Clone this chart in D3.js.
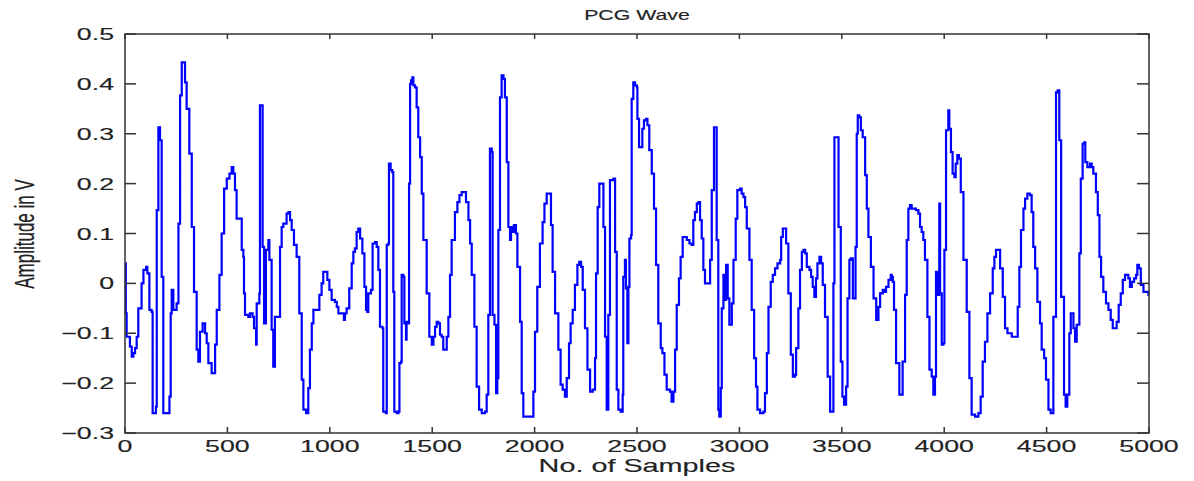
<!DOCTYPE html>
<html>
<head>
<meta charset="utf-8">
<script src="https://cdn.jsdelivr.net/npm/d3@7"></script>
<style>
  body { margin: 0; background: #fff; }
  svg text { font-family: "Liberation Sans", Arial, sans-serif; fill: #222; }
</style>
</head>
<body>
<div id="chart"></div>
<script>
// PCG wave (sample number, amplitude in V)
const sampleNo = [
  0, 4, 8, 16, 24, 33, 41, 49, 57, 65, 81, 90, 103, 109, 119, 130, 135, 147, 151, 155,
  163, 171, 179, 187, 212, 217, 223, 228, 236, 252, 261, 269, 277, 293, 301, 314, 326, 337, 350, 358,
  366, 379, 391, 399, 407, 423, 440, 448, 461, 472, 484, 497, 510, 521, 529, 537, 545,
  570, 578, 581, 586, 602, 610, 623, 630, 640, 643, 656, 659, 667, 672, 679, 688, 700, 705, 716,
  724, 732, 749, 757, 765, 773, 789, 798, 806, 814, 825, 838, 851, 863, 871, 884, 895, 903, 912, 920,
  939, 949, 960, 968, 982, 988, 998, 1009, 1025, 1034, 1042, 1058, 1069, 1074, 1082, 1095, 1107, 1115, 1123, 1131,
  1139, 1148, 1159, 1169, 1177, 1183, 1188, 1201,
  1209, 1221, 1229, 1237, 1245, 1257, 1261, 1274, 1278, 1286, 1289, 1297, 1305, 1310, 1315, 1327, 1335, 1340, 1348, 1351,
  1359, 1364, 1372, 1375, 1384, 1387, 1392, 1397, 1403, 1408, 1416, 1424, 1432, 1441, 1449, 1457, 1473, 1486, 1498, 1506,
  1514, 1522, 1530, 1538, 1546, 1554, 1571, 1579, 1587, 1595, 1611, 1623, 1633, 1644, 1657, 1665, 1677, 1685, 1693, 1706,
  1717, 1729, 1742, 1758, 1766, 1774, 1782, 1791, 1795, 1804, 1812, 1818, 1823, 1831, 1839, 1848,
  1855, 1864, 1872, 1880, 1885, 1893, 1899, 1909, 1916, 1929, 1937, 1945, 1986, 1994, 2002, 2013, 2026, 2039, 2048, 2059,
  2075, 2080, 2088, 2100, 2116, 2127, 2137, 2148, 2157, 2168, 2176, 2186, 2197, 2209, 2218, 2227, 2235, 2246, 2258, 2271,
  2284, 2295, 2300, 2308, 2316, 2328, 2336, 2344, 2352, 2360, 2368, 2385, 2393, 2401, 2409, 2420, 2430, 2433, 2441, 2446,
  2453, 2458, 2463, 2471,
  2474, 2482, 2490, 2499, 2502, 2510, 2518, 2526, 2534, 2544, 2551, 2560, 2572, 2583, 2593, 2604, 2616, 2624, 2634, 2645,
  2661, 2669, 2678, 2686, 2694, 2705, 2713, 2723, 2735, 2743, 2756, 2767, 2775, 2783, 2792, 2800, 2808, 2816, 2824, 2832,
  2849, 2857, 2865, 2873, 2876, 2884, 2889, 2897, 2902, 2909, 2914, 2922, 2930, 2935, 2943, 2951, 2963, 2971, 2982, 2990,
  3003, 3011, 3020, 3028, 3036, 3049, 3060, 3072, 3081, 3088, 3101,
  3117, 3125, 3134, 3142, 3153, 3163, 3174, 3186, 3199, 3204, 3212, 3223, 3228, 3239, 3251, 3261, 3272, 3277, 3288, 3296,
  3305, 3313, 3321, 3329, 3342, 3350, 3358, 3366, 3374, 3381, 3391, 3399, 3407, 3418, 3431, 3443, 3451, 3459, 3464, 3479,
  3484, 3492, 3495, 3503, 3511, 3521, 3528, 3537, 3544, 3554, 3562, 3567, 3573, 3578, 3586, 3593, 3602, 3614, 3622, 3630,
  3642, 3655, 3668, 3679, 3687, 3700, 3708, 3716, 3728, 3739,
  3744, 3749, 3755, 3765, 3776, 3781, 3792, 3797, 3809, 3817, 3825, 3833, 3841, 3862, 3874, 3882, 3890, 3898, 3906, 3918,
  3928, 3939, 3947, 3955, 3960, 3968, 3976, 3980, 3988, 3996, 4001, 4009, 4020, 4025, 4033, 4041, 4050, 4056, 4064, 4072,
  4081, 4094, 4110, 4123, 4134, 4151, 4167, 4178, 4188, 4199, 4211, 4224, 4237, 4245, 4253, 4265, 4273, 4286, 4297, 4309,
  4318, 4330, 4354, 4359, 4367,
  4375, 4387, 4395, 4406, 4419, 4427, 4435, 4444, 4455, 4468, 4476, 4488, 4497, 4509, 4520, 4530, 4533, 4541, 4546, 4554,
  4562, 4571, 4579, 4585, 4593, 4601, 4611, 4618, 4626, 4631, 4639, 4647, 4655, 4660, 4667, 4676, 4684, 4689, 4699, 4712,
  4720, 4728, 4741, 4750, 4758, 4766, 4777, 4790, 4802, 4813, 4823, 4831, 4842, 4852, 4862, 4872, 4883, 4891, 4899, 4907,
  4916, 4927, 4937, 4943, 4951, 4960, 4973, 4981, 4997, 5000
];

const amplitudeV = [
  0.04, -0.06, -0.107, -0.107, -0.127, -0.147, -0.14, -0.13, -0.107, -0.05, 0, 0.027, 0.033, 0.02, -0.053, -0.057, -0.26, -0.26, -0.247, 0.147,
  0.313, 0.287, 0.013, -0.26, -0.26, -0.227, -0.06, -0.013, -0.053, -0.04, 0.12, 0.377, 0.443, 0.403, 0.35, 0.26, 0.113, -0.017, -0.133, -0.157,
  -0.097, -0.08, -0.1, -0.12, -0.16, -0.18, -0.123, -0.053, 0.017, 0.1, 0.19, 0.21, 0.22, 0.233, 0.22, 0.187, 0.13,
  0.067, 0.053, -0.02, -0.063, -0.067, -0.06, -0.067, -0.09, -0.123, -0.04, -0.02, 0.357, 0.357, 0.073, -0.08, 0.067, 0.087, 0.047, -0.093,
  -0.167, -0.067, -0.067, 0.073, 0.113, 0.12, 0.14, 0.143, 0.127, 0.107, 0.077, 0.053, -0.06, -0.193, -0.253, -0.26, -0.21, -0.133, -0.08, -0.053,
  -0.053, -0.023, 0, 0.023, 0.023, 0.007, -0.013, -0.033, -0.037, -0.047, -0.06, -0.06, -0.073, -0.06, -0.05, -0.01, 0.04, 0.063, 0.07, 0.103,
  0.11, 0.09, 0.06, -0.007, -0.053, -0.057, -0.02, -0.013,
  0.08, 0.083, 0.073, 0.027, -0.087, -0.09, -0.257, -0.26, 0.077, 0.08, 0.24, 0.227, 0.223, -0.017, -0.257, -0.26, -0.257, -0.16, -0.157, 0.017,
  0.013, -0.08, -0.113, -0.077, -0.08, 0.2, 0.4, 0.407, 0.413, 0.397, 0.393, 0.353, 0.293, 0.253, 0.18, 0.087, -0.02, -0.107, -0.123, -0.107,
  -0.087, -0.077, -0.08, -0.103, -0.107, -0.133, -0.107, -0.067, 0.017, 0.087, 0.143, 0.163, 0.177, 0.183, 0.183, 0.163, 0.127, 0.08, 0.017, -0.087,
  -0.207, -0.253, -0.26, -0.257, -0.223, -0.063, 0.27, 0.263, -0.063, -0.083, -0.22, -0.19, 0.107, 0.373, 0.417, 0.41,
  0.373, 0.243, 0.113, 0.087, 0.113, 0.103, 0.117, 0.1, 0.033, -0.077, -0.22, -0.267, -0.267, -0.217, -0.097, -0.007, 0.08, 0.123, 0.16, 0.18,
  0.18, 0.117, 0.023, -0.06, -0.133, -0.203, -0.213, -0.227, -0.19, -0.12, -0.08, -0.053, -0.003, 0.037, 0.043, 0.033, -0.013, -0.09, -0.173, -0.217,
  -0.213, -0.15, 0.02, 0.153, 0.2, 0.2, 0.113, -0.107, -0.253, -0.063, 0.207, 0.21, 0.063, -0.213, -0.253, -0.257, -0.223, 0.013, 0.047, -0.01,
  -0.12, -0.007, 0.09, 0.097,
  0.37, 0.403, 0.397, 0.393, 0.33, 0.273, 0.273, 0.31, 0.327, 0.33, 0.317, 0.267, 0.22, 0.15, 0.037, -0.08, -0.13, -0.14, -0.183, -0.213,
  -0.217, -0.237, -0.217, -0.133, -0.043, 0.01, 0.053, 0.093, 0.093, 0.087, 0.08, 0.077, 0.127, 0.143, 0.16, 0.163, 0.127, 0.09, 0.027, 0,
  0, 0.047, 0.187, 0.187, 0.313, 0.313, 0.087, -0.253, -0.267, -0.21, -0.05, 0.017, -0.033, 0.037, -0.03, -0.083, -0.04, 0.047, 0.13, 0.187,
  0.19, 0.18, 0.173, 0.153, 0.11, 0.047, -0.053, -0.15, -0.207, -0.253, -0.26,
  -0.257, -0.22, -0.14, -0.047, 0.003, 0.017, 0.03, 0.04, 0.047, 0.093, 0.11, 0.11, 0.08, -0.02, -0.143, -0.187, -0.183, -0.13, -0.05, 0.027,
  0.063, 0.067, 0.06, 0.033, 0.027, 0.013, -0.007, -0.027, 0.01, 0.04, 0.053, 0.04, -0.003, -0.067, -0.187, -0.257, -0.257, 0, 0.293, 0.293,
  0.113, 0.113, -0.157, -0.227, -0.243, -0.207, -0.03, 0.047, 0.05, -0.03, -0.03, 0.073, 0.3, 0.337, 0.333, 0.307, 0.293, 0.217, 0.15, 0.093,
  0.033, -0.03, -0.073, -0.047, -0.02, -0.013, -0.017, -0.007, 0.007, 0.017,
  0.013, 0.003, -0.053, -0.16, -0.16, -0.223, -0.223, -0.157, -0.023, 0.087, 0.15, 0.157, 0.15, 0.147, 0.14, 0.113, 0.103, 0.087, 0.047, -0.067,
  -0.173, -0.187, -0.223, -0.187, 0.023, -0.023, 0.16, -0.02, -0.123, -0.12, 0.067, 0.307, 0.347, 0.31, 0.263, 0.22, 0.213, 0.24, 0.257, 0.25,
  0.183, 0.047, -0.057, -0.19, -0.263, -0.267, -0.26, -0.227, -0.157, -0.117, -0.06, -0.02, 0.03, 0.053, 0.067, 0.067, 0.03, -0.027, -0.09, -0.1,
  -0.1, -0.107, -0.107, -0.047, 0.033,
  0.107, 0.15, 0.17, 0.18, 0.177, 0.143, 0.073, 0.03, -0.037, -0.08, -0.133, -0.15, -0.193, -0.253, -0.26, -0.26, -0.067, -0.067, 0.383, 0.387,
  0.287, -0.027, -0.027, -0.223, -0.247, -0.223, -0.1, -0.06, -0.06, -0.09, -0.117, -0.083, -0.083, 0.06, 0.21, 0.28, 0.283, 0.243, 0.233, 0.24,
  0.233, 0.22, 0.183, 0.137, 0.053, 0.013, -0.017, -0.04, -0.053, -0.073, -0.09, -0.09, -0.077, -0.043, -0.02, 0.007, 0.017, 0.017, 0.01, -0.007,
  0.003, 0.01, 0.017, 0.037, 0.03, -0.003, -0.017, -0.017, -0.023, -0.023
];

const xTicks = [0, 500, 1000, 1500, 2000, 2500, 3000, 3500, 4000, 4500, 5000];
const yTicks = [-0.3, -0.2, -0.1, 0, 0.1, 0.2, 0.3, 0.4, 0.5];

const W = 1194, H = 481;
const margin = {top: 34, right: 45, bottom: 48, left: 125};
const width = W - margin.left - margin.right;
const height = H - margin.top - margin.bottom;
const stretch = 1.62; // the picture is widened, text too

const svg = d3.select("#chart").append("svg")
    .attr("width", W)
    .attr("height", H);

const g = svg.append("g")
    .attr("transform", `translate(${margin.left},${margin.top})`);

const x = d3.scaleLinear().domain([0, 5000]).range([0, width]);
const y = d3.scaleLinear().domain([-0.3, 0.5]).range([height, 0]);

const data = sampleNo.map((s, i) => ({s: s, v: amplitudeV[i]}));

// the wave
g.append("path")
    .datum(data)
    .attr("fill", "none")
    .attr("stroke", "#0000ff")
    .attr("stroke-width", 2.2)
    .attr("d", d3.line()
        .x(d => x(d.s))
        .y(d => y(d.v))
        .curve(d3.curveStepAfter));

// ticks inside the box, MATLAB style
const tickColor = "#333";
xTicks.forEach(t => {
    g.append("line").attr("x1", x(t)).attr("x2", x(t)).attr("y1", height).attr("y2", height - 6)
        .attr("stroke", tickColor).attr("stroke-width", 1.5);
    g.append("line").attr("x1", x(t)).attr("x2", x(t)).attr("y1", 0).attr("y2", 5)
        .attr("stroke", tickColor).attr("stroke-width", 1.5);
});
yTicks.forEach(t => {
    g.append("line").attr("x1", 0).attr("x2", 11).attr("y1", y(t)).attr("y2", y(t))
        .attr("stroke", tickColor).attr("stroke-width", 1.5);
    g.append("line").attr("x1", width - 12).attr("x2", width).attr("y1", y(t)).attr("y2", y(t))
        .attr("stroke", tickColor).attr("stroke-width", 1.5);
});

// box
g.append("rect")
    .attr("x", 0).attr("y", 0)
    .attr("width", width).attr("height", height)
    .attr("fill", "none")
    .attr("stroke", "#333")
    .attr("stroke-width", 1.5);

// stretched text helper
function label(px, py, str, size, anchor, rot, sx) {
    const t = svg.append("text")
        .attr("transform", `translate(${px},${py}) scale(${sx || stretch},1)` + (rot ? ` rotate(${rot})` : ""))
        .attr("text-anchor", anchor)
        .style("font-size", size + "px")
        .style("stroke", "#222")
        .style("stroke-width", 0.15)
        .text(str);
    return t;
}

xTicks.forEach(t => label(margin.left + x(t), margin.top + height + 19, t, 16.5, "middle"));
yTicks.forEach(t => label(margin.left - 11, margin.top + y(t) + 6, t === 0 ? "0" : d3.format(".1f")(t), 16.5, "end"));

label(margin.left + width / 2, 20, "PCG Wave", 15, "middle", 0, 1.42);
label(margin.left + width / 2, 472, "No. of Samples", 18, "middle", 0, 1.6);
label(34, 234, "Amplitude in V", 17, "middle", -90);
</script>
</body>
</html>
